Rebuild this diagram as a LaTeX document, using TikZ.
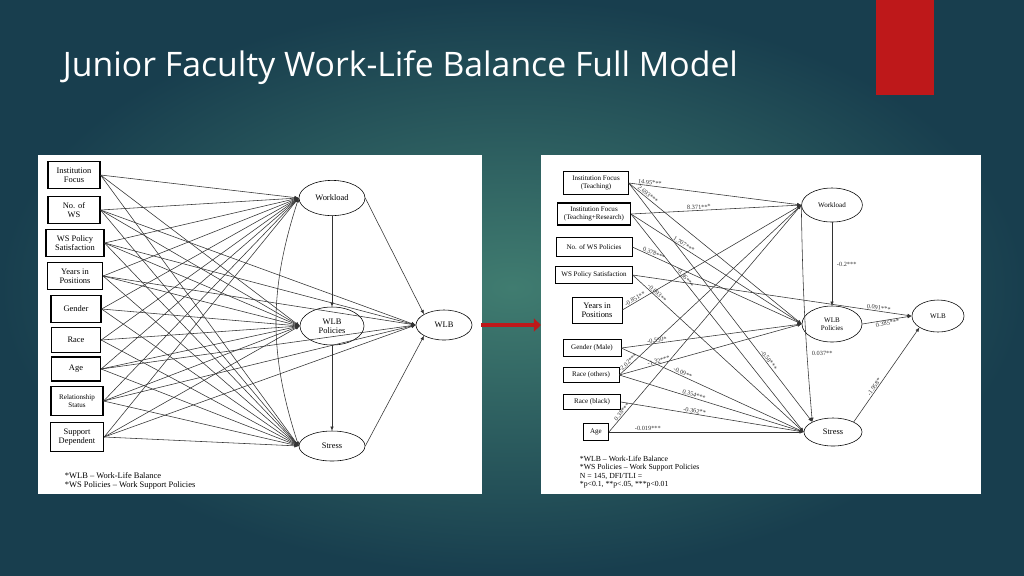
\documentclass[tikz,border=0pt]{standalone}
\usepackage{fontspec}
\setmainfont{Liberation Serif}
\newfontfamily\titlefont{Open Sans}
\usetikzlibrary{positioning,arrows.meta}
\definecolor{tabred}{RGB}{190,24,26}
\begin{document}
\begin{tikzpicture}[x=0.025cm,y=-0.025cm,
  box/.style={draw,thick,fill=white,align=center,inner sep=1pt,font=\fontsize{6}{6.5}\selectfont},
  rbox/.style={draw,fill=white,align=center,inner sep=1pt,font=\fontsize{5}{5.5}\selectfont},
  oval/.style={draw,ellipse,fill=white,font=\fontsize{6}{6.5}\selectfont,align=center,inner sep=0pt},
  path/.style={-{Latex[length=3pt,width=2.5pt]},line width=0.4pt,black!80},
  coef/.style={sloped,above,inner sep=0.5pt,font=\fontsize{4.5}{5}\selectfont}]
 \usetikzlibrary{shapes.geometric}
 %Background
 \shade[inner color={rgb,255:red,64;green,124;blue,112},outer color={rgb,255:red,24;green,62;blue,78}] (0,0) rectangle (1024,575);
 \useasboundingbox (0,0) rectangle (1024,575);
 \fill[tabred] (876,0) rectangle (934,95);
 \node[anchor=base west,text=white,font=\titlefont\fontsize{24}{28}\selectfont] (title) at (58,76) {Junior Faculty Work-Life Balance Full Model};
 \fill[white] (38,155) rectangle (482,494);
 \fill[white] (541,155) rectangle (981,494);
 \draw[-{Triangle[length=5pt,width=9pt]},line width=3.5pt,tabred] (481,325) -- (541,325);

 %Left model
 \node[box,minimum width=1.3cm,minimum height=0.68cm] (lif) at (74,175) {Institution\\Focus};
 \node[box,minimum width=1.3cm,minimum height=0.68cm] (lnws) at (74,210) {No. of\\WS};
 \node[box,minimum width=1.45cm,minimum height=0.68cm] (lsat) at (75,243) {WS Policy\\Satisfaction};
 \node[box,minimum width=1.38cm,minimum height=0.68cm] (lyrs) at (75,276) {Years in\\Positions};
 \node[box,minimum width=1.25cm,minimum height=0.66cm] (lgen) at (76,309) {Gender};
 \node[box,minimum width=1.23cm,minimum height=0.62cm] (lrace) at (76,340) {Race};
 \node[box,minimum width=1.23cm,minimum height=0.6cm] (lage) at (76,369) {Age};
 \node[box,minimum width=1.3cm,minimum height=0.74cm,font=\fontsize{5}{5.5}\selectfont] (lrel) at (77,401) {Relationship\\Status};
 \node[box,minimum width=1.33cm,minimum height=0.74cm] (lsup) at (77,437) {Support\\Dependent};
 \node[oval,minimum width=1.65cm,minimum height=0.88cm] (lwork) at (332,198) {Workload};
 \node[oval,minimum width=1.6cm,minimum height=0.95cm] (lpol) at (332,326) {WLB\\Policies};
 \node[oval,minimum width=1.65cm,minimum height=0.75cm] (lstr) at (332,446) {Stress};
 \node[oval,minimum width=1.4cm,minimum height=0.75cm] (lwlb) at (444,325) {WLB};
 \foreach \p in {lif,lnws,lsat,lyrs,lgen,lrace,lage,lrel,lsup}{
   \draw[path] (\p.east) -- (lwork.west);
   \draw[path] (\p.east) -- (lpol.west);
   \draw[path] (\p.east) -- (lstr.west);}
 \foreach \p in {lnws,lsat,lyrs,lage,lrel,lsup}
   \draw[path] (\p.east) -- (lwlb.west);
 \draw[path] (lwork) -- (lpol);
 \draw[path] (lpol) -- (lstr);
 \draw[path] (lwork.east) -- (lwlb.north west);
 \draw[path] (lstr.east) -- (lwlb.south west);
 \draw[{Latex[length=3pt,width=2.5pt]}-{Latex[length=3pt,width=2.5pt]},black!80] (lwork.west) to[bend right=18] (lstr.west);
 \node[anchor=west,font=\fontsize{6}{6.5}\selectfont,align=left] (lnote) at (60,481) {*WLB -- Work-Life Balance\\*WS Policies -- Work Support Policies};

 %Right model
 \node[rbox,minimum width=1.62cm,minimum height=0.57cm] (rift) at (596,183) {Institution Focus\\(Teaching)};
 \node[rbox,thick,minimum width=1.82cm,minimum height=0.55cm] (riftr) at (594,214) {Institution Focus\\(Teaching+Research)};
 \node[rbox,minimum width=1.9cm,minimum height=0.47cm] (rnws) at (594,247) {No. of WS Policies};
 \node[rbox,minimum width=1.92cm,minimum height=0.42cm] (rsat) at (594,275) {WS Policy Satisfaction};
 \node[rbox,minimum width=1.25cm,minimum height=0.65cm,font=\fontsize{6}{6.5}\selectfont] (ryrs) at (597,310) {Years in\\Positions};
 \node[rbox,minimum width=1.45cm,minimum height=0.42cm] (rgen) at (592,348) {Gender (Male)};
 \node[rbox,minimum width=1.4cm,minimum height=0.38cm] (roth) at (591,375) {Race (others)};
 \node[rbox,thick,minimum width=1.42cm,minimum height=0.38cm] (rblk) at (592,402) {Race (black)};
 \node[rbox,minimum width=0.63cm,minimum height=0.42cm] (rage) at (596,432) {Age};
 \node[oval,minimum width=1.52cm,minimum height=0.85cm,font=\fontsize{5}{5.5}\selectfont] (rwork) at (832,205) {Workload};
 \node[oval,minimum width=1.5cm,minimum height=0.9cm,font=\fontsize{5}{5.5}\selectfont] (rpol) at (832,324) {WLB\\Policies};
 \node[oval,minimum width=1.45cm,minimum height=0.7cm] (rstr) at (833,432) {Stress};
 \node[oval,minimum width=1.3cm,minimum height=0.8cm,font=\fontsize{5}{5.5}\selectfont] (rwlb) at (938,316) {WLB};
 \draw[path] (rift.east) -- node[coef,pos=0.12] {14.95***} (rwork.west);
 \draw[path] (rift.east) -- node[coef,pos=0.1] {2.693***} (rpol.west);
 \draw[path] (rift.east) -- node[coef,pos=0.75] {-0.58***} (rstr.north west);
 \draw[path] (riftr.east) -- node[coef,pos=0.4] {8.371***} (rwork.west);
 \draw[path] (riftr.east) -- node[coef,pos=0.3] {1.707***} (rpol.west);
 \draw[path] (riftr.east) -- node[coef,pos=0.3] {-0.36***} (rstr.west);
 \draw[path] (rnws.east) -- node[coef,pos=0.12] {0.378***} (rpol.west);
 \draw[path] (rsat.east) -- node[coef,pos=0.88] {0.091***} (rwlb.west);
 \draw[path] (rsat.east) -- node[coef,pos=0.13] {-0.093**} (rstr.west);
 \draw[path] (ryrs.east) -- node[coef,pos=0.08] {-0.851**} (rwork.west);
 \draw[path] (rgen.east) -- node[coef,pos=0.2] {-0.550*} (rpol.west);
 \draw[path] (rgen.east) -- node[coef,pos=0.33] {-0.09**} (rstr.west);
 \draw[path] (roth.east) -- node[coef,pos=0.06] {-2.02***} (rwork.west);
 \draw[path] (roth.east) -- node[coef,pos=0.22] {-1.32***} (rpol.west);
 \draw[path] (roth.east) -- node[coef,pos=0.4] {0.354***} (rstr.west);
 \draw[path] (rblk.east) -- node[coef,pos=0.4] {-0.362**} (rstr.west);
 \draw[path] (rage.east) -- node[coef,pos=0.08] {0.38***} (rwork.west);
 \draw[path] (rage.east) -- node[coef,pos=0.2] {-0.019***} (rstr.west);
 \draw[path] (rwork) -- node[right,font=\fontsize{4.5}{5}\selectfont] {-0.2***} (rpol);
 \draw[path] (rwork.west) to[bend right=2] node[pos=0.7,right,font=\fontsize{4.5}{5}\selectfont] {0.037**} (rstr.north west);
 \draw[path] (rpol.east) -- node[coef,below] {0.385***} (rwlb.west);
 \draw[path] (rstr.north east) -- node[coef,pos=0.35] {-1.958*} (rwlb.south west);
 \node[anchor=west,font=\fontsize{5.5}{6}\selectfont,align=left] (rnote) at (575,472) {*WLB -- Work-Life Balance\\*WS Policies -- Work Support Policies\\N = 145, DFI/TLI =\\*p<0.1, **p<.05, ***p<0.01};
\end{tikzpicture}
\end{document}
